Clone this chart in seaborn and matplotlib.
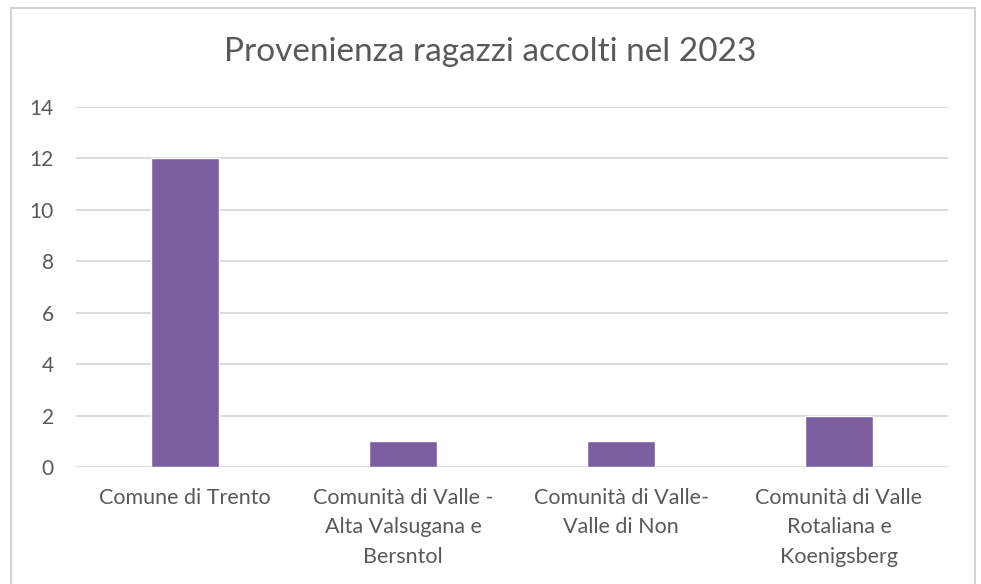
import matplotlib
matplotlib.use("Agg")
import matplotlib.pyplot as plt
import seaborn as sns
import pandas as pd
from matplotlib.patches import Rectangle

categories = [
    "Comune di Trento",
    "Comunità di Valle -\nAlta Valsugana e\nBersntol",
    "Comunità di Valle-\nValle di Non",
    "Comunità di Valle\nRotaliana e\nKoenigsberg",
]
values = [12, 1, 1, 2]
y_ticks = [0, 2, 4, 6, 8, 10, 12, 14]
title = "Provenienza ragazzi accolti nel 2023"

sns.set_theme(style="white")
plt.rcParams["font.family"] = ["Lato", "DejaVu Sans"]

W, H = 981, 584
fig = plt.figure(figsize=(W / 100, H / 100), dpi=100)
fig.patch.set_facecolor("white")

# outer chart frame (bottom edge runs off the canvas)
fig.patches.append(Rectangle((11 / W, -0.05), (975 - 11) / W, 1.05 - 8 / H,
                             transform=fig.transFigure, fill=False,
                             edgecolor="#d4d4d4", linewidth=1.5))

ax = fig.add_axes([76 / W, 1 - 467 / H, (948 - 76) / W, (467 - 107) / H])
df = pd.DataFrame({"area": categories, "n": values})
sns.barplot(data=df, x="area", y="n", color="#7b5fa0", saturation=1,
            width=0.31, ax=ax, zorder=3)

ax.set_ylim(0, 14)
ax.set_xlim(-0.5, len(categories) - 0.5)
ax.set_yticks(y_ticks)
ax.set_yticklabels([str(t) for t in y_ticks])
ax.yaxis.grid(True, color="#d9d9d9", linewidth=1.3, zorder=0)
ax.set_axisbelow(True)
for s in ax.spines.values():
    s.set_visible(False)
ax.tick_params(axis="both", length=0, colors="#595959")
ax.tick_params(axis="y", pad=16, labelsize=15)
ax.tick_params(axis="x", pad=15, labelsize=15.5)
for lbl in ax.get_xticklabels():
    lbl.set_linespacing(1.6)
ax.set_xlabel("")
ax.set_ylabel("")

fig.text(0.5, 1 - 52 / H, title, ha="center", va="center",
         fontsize=24, color="#595959")

fig.savefig("out.png", dpi=100, facecolor="white")
